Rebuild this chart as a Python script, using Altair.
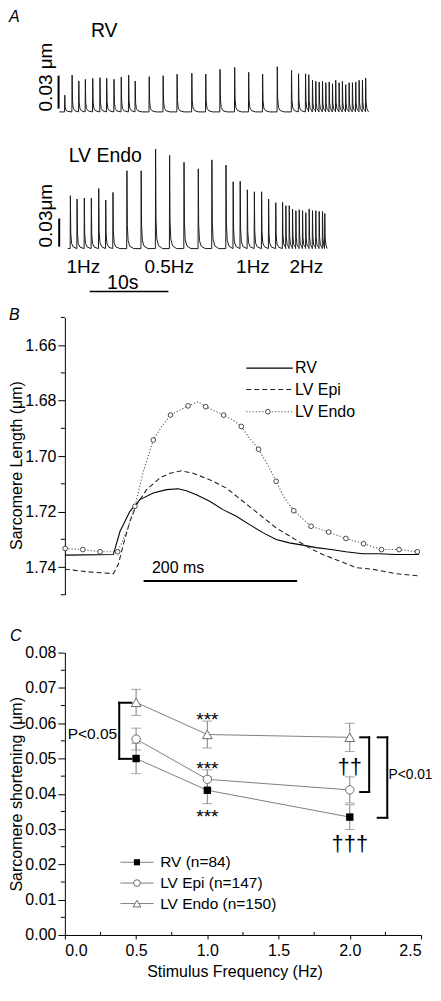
import altair as alt
import pandas as pd

FONT = "Liberation Sans"

# ======================= Panel A : raw sarcomere traces =======================
RV_BEAT_T = [-2.04, -1.11, -0.26, 0.57, 1.51, 2.43, 3.28, 4.21, 5.13, 6.07, 6.90,
             8.68, 10.45, 12.22, 14.09, 15.86, 17.67, 19.53, 21.31, 23.08, 24.94,
             26.75, 27.64,
             28.53, 28.94, 29.41, 29.83, 30.26, 30.68, 31.10, 31.53, 31.95, 32.36,
             32.79, 33.21, 33.63, 34.06, 34.48, 34.90, 35.33, 35.75, 36.16]
RV_BEAT_AMP = [0.0152, 0.0336, 0.0282, 0.0297, 0.0306, 0.0312, 0.0306, 0.0297, 0.0318, 0.0336, 0.0282,
               0.0321, 0.0330, 0.0343, 0.0352, 0.0345, 0.0388, 0.0406, 0.0361, 0.0345, 0.0412,
               0.0379, 0.0348,
               0.0348, 0.0339, 0.0288, 0.0279, 0.0273, 0.0279, 0.0266, 0.0273, 0.0257, 0.0288,
               0.0266, 0.0279, 0.0248, 0.0266, 0.0266, 0.0273, 0.0288, 0.0288, 0.0309]
LV_BEAT_T = [-1.33, -0.48, 0.44, 1.33, 2.27, 3.16, 4.08,
             5.85, 7.66, 9.49, 11.27, 13.10, 14.91, 16.64, 18.43,
             19.34, 20.23, 21.14, 22.03, 22.95, 23.84, 24.75, 25.61,
             26.03, 26.46, 26.88, 27.30, 27.73, 28.15, 28.56, 28.99, 29.41, 29.83, 30.26, 30.68, 30.97]
LV_BEAT_AMP = [0.0562, 0.0527, 0.0537, 0.0537, 0.0639, 0.0516, 0.0597,
               0.0827, 0.0827, 0.1057, 0.0991, 0.0917, 0.0848, 0.0943, 0.0887,
               0.0710, 0.0716, 0.0625, 0.0604, 0.0604, 0.0527, 0.0488, 0.0491,
               0.0456, 0.0456, 0.0421, 0.0403, 0.0413, 0.0403, 0.0382, 0.0421, 0.0403, 0.0403,
               0.0395, 0.0395, 0.0374]
# shape of one twitch (time after stimulus in s, fraction of peak)
SPIKE_DT = [0.0, 0.03, 0.08, 0.18, 0.4, 0.9]
SPIKE_FR = [0.0, 1.0, 0.3, 0.1, 0.03, 0.0]
RV_TRACE_START, RV_TRACE_END = -2.7, 36.55
LV_TRACE_START, LV_TRACE_END = -1.62, 31.3
RV_BAR_T, RV_BAR_V = -2.80, [0.003, 0.033]
LV_BAR_T, LV_BAR_V = -2.72, [0.002, 0.032]
A_FREQ_LABELS = ["1Hz", "0.5Hz", "1Hz", "2Hz"]
A_FREQ_T = [0.34, 11.24, 21.88, 28.65]
A_FREQ_V = -0.0198
A_TIMEBAR_T = [1.15, 11.15]
A_TIMEBAR_V = -0.0456

# ======================= Panel B : averaged twitches ==========================
RV_T = [0, 63.2, 71.9, 84.8, 97.8, 115.2, 132.5, 147.6, 158.4, 171.4, 188.7, 206.0, 223.4,
        240.7, 258.0, 275.3, 292.6, 310.0, 327.3, 344.6, 366.2, 387.9, 409.5, 431.2, 461.5]
RV_SL = [1.7357, 1.7355, 1.7271, 1.7199, 1.7157, 1.7133, 1.7121, 1.7118, 1.7125, 1.7139, 1.7163,
         1.7193, 1.7217, 1.7247, 1.7276, 1.7301, 1.7313, 1.7321, 1.7330, 1.7336, 1.7345, 1.7352,
         1.7352, 1.7355, 1.7355]
EPI_T = [0, 28.6, 63.2, 69.7, 76.2, 84.8, 93.5, 106.5, 123.8, 136.8, 151.9, 167.1, 188.7, 210.4,
         232.0, 253.7, 275.3, 297.0, 318.6, 335.9, 357.6, 379.2, 400.9, 431.2, 461.5]
EPI_SL = [1.7408, 1.7417, 1.7424, 1.7390, 1.7319, 1.7235, 1.7175, 1.7121, 1.7079, 1.7062, 1.7053,
          1.7062, 1.7085, 1.7115, 1.7163, 1.7211, 1.7259, 1.7295, 1.7331, 1.7355, 1.7378, 1.7402,
          1.7408, 1.7424, 1.7432]
ENDO_T = [0.4, 23.4, 45.9, 68.8, 80.5, 91.3, 102.2, 115.2, 126.0, 137.7, 160.6, 173.6, 183.5,
          206.9, 219.0, 229.9, 240.7, 252.4, 264.5, 275.3, 286.1, 298.3, 320.8, 343.7, 366.2,
          389.2, 412.6, 435.5, 459.3]
ENDO_SL = [1.7333, 1.7337, 1.7345, 1.7345, 1.7271, 1.7181, 1.7056, 1.6942, 1.6894, 1.6852,
           1.6819, 1.6804, 1.6822, 1.6852, 1.6870, 1.6893, 1.6936, 1.6975, 1.7032, 1.7091,
           1.7151, 1.7197, 1.7253, 1.7274, 1.7297, 1.7316, 1.7337, 1.7337, 1.7345]
ENDO_MARK_T = [0.4, 23.4, 45.9, 68.8, 91.3, 115.2, 137.7, 160.6, 183.5, 206.9, 229.9, 252.4,
               275.3, 298.3, 320.8, 343.7, 366.2, 389.2, 412.6, 435.5, 459.3]
ENDO_MARK_SL = [1.7333, 1.7337, 1.7345, 1.7345, 1.7181, 1.6942, 1.6852, 1.6819, 1.6822, 1.6852,
                1.6893, 1.6975, 1.7091, 1.7197, 1.7253, 1.7274, 1.7297, 1.7316, 1.7337, 1.7337,
                1.7345]
B_TICKS = [1.66, 1.68, 1.70, 1.72, 1.74]
B_MINOR = [1.65, 1.67, 1.69, 1.71, 1.73, 1.75]
B_LEG_NAMES = ["RV", "LV Epi", "LV Endo"]
B_LEG_SL = [1.6683, 1.6760, 1.6840]
B_LEG_T = [236.4, 297.0]
B_LEG_MARK_T = 264.5
B_LEG_TEXT_T = 300.0
B_BAR_T = [102.6, 302.6]
B_BAR_SL = 1.7450

# ======================= Panel C : shortening vs frequency ====================
FREQ = [0.5, 1.0, 2.0]
RV_MEAN = [0.0500, 0.0410, 0.0334]
RV_SEM = [0.0043, 0.0038, 0.0035]
EPI_MEAN = [0.0555, 0.0441, 0.0411]
EPI_SEM = [0.0031, 0.0027, 0.0037]
ENDO_MEAN = [0.0659, 0.0568, 0.0560]
ENDO_SEM = [0.0037, 0.0038, 0.0040]
C_YTICKS = [0.00, 0.01, 0.02, 0.03, 0.04, 0.05, 0.06, 0.07, 0.08]
C_YMINOR = [0.005, 0.015, 0.025, 0.035, 0.045, 0.055, 0.065, 0.075]
C_XTICKS = [0.0, 0.5, 1.0, 1.5, 2.0, 2.5]
C_XMINOR = [0.25, 0.75, 1.25, 1.75, 2.25]
C_LEG_NAMES = ["RV (n=84)", "LV Epi (n=147)", "LV Endo (n=150)"]
C_LEG_S = [0.0206, 0.0147, 0.0089]
C_LEG_LINE_F = [0.390, 0.623]
C_LEG_MARK_F = 0.506
C_LEG_TEXT_F = 0.669
STAR_S = [0.0622, 0.0483, 0.0347]
DAGGER_LABELS = ["††", "†††"]
DAGGER_S = [0.0476, 0.0259]
# brackets: (x of vertical bar, x of free ends, top, bottom)
BRACKETS = [(0.3816, 0.467, 0.0658, 0.0499),
            (2.136, 2.073, 0.0560, 0.0405),
            (2.263, 2.196, 0.0560, 0.0332)]
P_LABELS = ["P<0.05", "P<0.01"]
P_F = [0.193, 2.272]
P_S = [0.0569, 0.0454]

GRAY = "#808080"

# ---------------------------------------------------------------- Panel A
def trace_df(times, amps, t_start, t_end):
    rows = [(t_start, 0.0)]
    for i, (t0, a) in enumerate(zip(times, amps)):
        t_next = times[i + 1] if i + 1 < len(times) else t_end
        for dt, fr in zip(SPIKE_DT, SPIKE_FR):
            if t0 + dt < t_next:
                rows.append((t0 + dt, a * fr))
    rows.append((t_end, 0.0))
    return pd.DataFrame(rows, columns=["t", "v"])


A_X = alt.X("t:Q", scale=alt.Scale(domain=[-2, 43.6], nice=False, zero=False), axis=None)
RV_YS = alt.Scale(domain=[-0.13455, 0.09364], nice=False, zero=False)
LV_YS = alt.Scale(domain=[-0.01166, 0.25451], nice=False, zero=False)


def ay(scale):
    return alt.Y("v:Q", scale=scale, axis=None)


def a_layer(times, amps, t0, t1, ys, bar_t, bar_v, name, name_t, name_v, vlab, vlab_t, vlab_v, extra):
    line = alt.Chart(trace_df(times, amps, t0, t1)).mark_line(
        color="#1a1a1a", strokeWidth=1.0).encode(x=A_X, y=ay(ys))
    bar = alt.Chart(pd.DataFrame({"t": [bar_t], "v": [bar_v[0]], "v2": [bar_v[1]]})).mark_rule(
        color="black", strokeWidth=2).encode(x=A_X, y=ay(ys), y2="v2:Q")
    lab = alt.Chart(pd.DataFrame({"t": [name_t], "v": [name_v], "l": [name]})).mark_text(
        fontSize=19.5, align="center", baseline="middle", color="black").encode(x=A_X, y=ay(ys), text="l:N")
    vl = alt.Chart(pd.DataFrame({"t": [vlab_t], "v": [vlab_v], "l": [vlab]})).mark_text(
        fontSize=19, angle=270, align="center", baseline="middle", color="black").encode(
        x=A_X, y=ay(ys), text="l:N")
    return alt.layer(line, bar, lab, vl, *extra)


freq_lab = alt.Chart(pd.DataFrame({"t": A_FREQ_T, "v": [A_FREQ_V] * 4, "l": A_FREQ_LABELS})).mark_text(
    fontSize=19, align="center", baseline="middle", color="black").encode(x=A_X, y=ay(LV_YS), text="l:N")
ten_lab = alt.Chart(pd.DataFrame({"t": [5.35], "v": [-0.0361], "l": ["10s"]})).mark_text(
    fontSize=19.5, align="center", baseline="middle", color="black").encode(x=A_X, y=ay(LV_YS), text="l:N")
ten_bar = alt.Chart(pd.DataFrame({"t": [A_TIMEBAR_T[0]], "t2": [A_TIMEBAR_T[1]], "v": [A_TIMEBAR_V]})).mark_rule(
    color="black", strokeWidth=1.5).encode(x=A_X, x2="t2:Q", y=ay(LV_YS))

rv_layer = a_layer(RV_BEAT_T, RV_BEAT_AMP, RV_TRACE_START, RV_TRACE_END, RV_YS, RV_BAR_T, RV_BAR_V,
                   "RV", 3.0, 0.0736, "0.03 μm", -4.41, 0.0318, [])
lv_layer = a_layer(LV_BEAT_T, LV_BEAT_AMP, LV_TRACE_START, LV_TRACE_END, LV_YS, LV_BAR_T, LV_BAR_V,
                   "LV Endo", 3.13, 0.0986, "0.03μm", -4.34, 0.0350, [freq_lab, ten_lab, ten_bar])


def letter(ch, dx, dy, base):
    return alt.Chart(pd.DataFrame({"l": [ch]})).mark_text(
        fontSize=16, fontStyle="italic", align="left", baseline=base, color="black").encode(
        text="l:N", x=alt.value(dx), y=alt.value(dy))


panelA = alt.layer(rv_layer, lv_layer, letter("A", -56, 0, "top")).resolve_scale(
    y="independent").properties(width=360, height=251)

# ---------------------------------------------------------------- Panel B
B_XS = alt.Scale(domain=[0, 468], nice=False, zero=False)
B_YS = alt.Scale(domain=[1.65, 1.75], reverse=True, nice=False, zero=False)
B_AX = alt.Axis(values=B_TICKS, format=".2f", title="Sarcomere Length (μm)", tickSize=7,
                labelPadding=2, titlePadding=0, titleY=148, domainColor="black", tickColor="black")


def bx():
    return alt.X("t:Q", scale=B_XS, axis=None)


def by():
    return alt.Y("sl:Q", scale=B_YS, axis=B_AX)


b_rv = alt.Chart(pd.DataFrame({"t": RV_T, "sl": RV_SL})).mark_line(
    color="black", strokeWidth=1.1).encode(x=bx(), y=by())
b_epi = alt.Chart(pd.DataFrame({"t": EPI_T, "sl": EPI_SL})).mark_line(
    color="#222", strokeWidth=1.1, strokeDash=[5, 3]).encode(x=bx(), y=by())
b_endo = alt.Chart(pd.DataFrame({"t": ENDO_T, "sl": ENDO_SL})).mark_line(
    color="#555", strokeWidth=1.1, strokeDash=[1.2, 2]).encode(x=bx(), y=by())
b_endo_pts = alt.Chart(pd.DataFrame({"t": ENDO_MARK_T, "sl": ENDO_MARK_SL})).mark_point(
    shape="circle", size=22, filled=True, fill="white", stroke="#333", strokeWidth=0.9, opacity=1).encode(
    x=bx(), y=by())
b_minor = alt.Chart(pd.DataFrame({"sl": B_MINOR})).mark_rule(color="black").encode(
    y=by(), x=alt.value(-4), x2=alt.value(0))
b_bar = alt.Chart(pd.DataFrame({"t": [B_BAR_T[0]], "t2": [B_BAR_T[1]], "sl": [B_BAR_SL]})).mark_rule(
    color="black", strokeWidth=2).encode(x=bx(), x2="t2:Q", y=by())
b_bar_lab = alt.Chart(pd.DataFrame({"t": [147.6], "sl": [1.7402], "l": ["200 ms"]})).mark_text(
    fontSize=16, align="center", baseline="middle", color="black").encode(x=bx(), y=by(), text="l:N")

leg_df = pd.DataFrame({"t": [B_LEG_T[0]] * 3, "t2": [B_LEG_T[1]] * 3, "sl": B_LEG_SL, "n": B_LEG_NAMES})
b_leg_rv = alt.Chart(leg_df.iloc[[0]]).mark_rule(color="black", strokeWidth=1.1).encode(
    x=bx(), x2="t2:Q", y=by())
b_leg_epi = alt.Chart(leg_df.iloc[[1]]).mark_rule(color="#222", strokeWidth=1.1, strokeDash=[5, 3]).encode(
    x=bx(), x2="t2:Q", y=by())
b_leg_endo = alt.Chart(leg_df.iloc[[2]]).mark_rule(color="#555", strokeWidth=1.1, strokeDash=[1.2, 2]).encode(
    x=bx(), x2="t2:Q", y=by())
b_leg_pt = alt.Chart(pd.DataFrame({"t": [B_LEG_MARK_T], "sl": [B_LEG_SL[2]]})).mark_point(
    shape="circle", size=22, filled=True, fill="white", stroke="#333", strokeWidth=0.9, opacity=1).encode(
    x=bx(), y=by())
b_leg_txt = alt.Chart(pd.DataFrame({"t": [B_LEG_TEXT_T] * 3, "sl": B_LEG_SL, "n": B_LEG_NAMES})).mark_text(
    fontSize=16, align="left", baseline="middle", color="black").encode(x=bx(), y=by(), text="n:N")

panelB = alt.layer(b_rv, b_epi, b_endo, b_endo_pts, b_minor, b_bar, b_bar_lab,
                   b_leg_rv, b_leg_epi, b_leg_endo, b_leg_pt, b_leg_txt,
                   letter("B", -56, 3, "alphabetic")).properties(width=360, height=278)

# ---------------------------------------------------------------- Panel C
C_W = 357
C_XS = alt.Scale(domain=[0, 2.5], nice=False, zero=False)
C_YS = alt.Scale(domain=[0, 0.08], nice=False, zero=False)
C_XAX = alt.Axis(values=C_XTICKS, format=".1f", title="Stimulus Frequency (Hz)", tickSize=4,
                 labelPadding=4, titleX=170, titleY=29, titleBaseline="top",
                 domainColor="black", tickColor="black")
C_YAX = alt.Axis(values=C_YTICKS, format=".2f", title="Sarcomere shortening (μm)", tickSize=7,
                 labelPadding=2, titlePadding=0, domainColor="black", tickColor="black")


def cx():
    return alt.X("f:Q", scale=C_XS, axis=C_XAX)


def cy():
    return alt.Y("s:Q", scale=C_YS, axis=C_YAX)


series = [("RV", RV_MEAN, RV_SEM), ("Epi", EPI_MEAN, EPI_SEM), ("Endo", ENDO_MEAN, ENDO_SEM)]
c_layers = []
for nm, mean, sem in series:
    df = pd.DataFrame({"f": FREQ, "s": mean,
                       "lo": [m - e for m, e in zip(mean, sem)],
                       "hi": [m + e for m, e in zip(mean, sem)]})
    c_layers.append(alt.Chart(df).mark_line(color=GRAY, strokeWidth=1).encode(x=cx(), y=cy()))
    c_layers.append(alt.Chart(df).mark_rule(color=GRAY, strokeWidth=1).encode(
        x=cx(), y=alt.Y("lo:Q", scale=C_YS, axis=C_YAX), y2="hi:Q"))
    for fld in ["lo", "hi"]:
        c_layers.append(alt.Chart(df).mark_tick(orient="horizontal", color=GRAY, size=10, thickness=1).encode(
            x=cx(), y=alt.Y(f"{fld}:Q", scale=C_YS, axis=C_YAX)))

MARKS = {
    "RV": dict(shape="square", size=55, filled=True, color="black", opacity=1),
    "Epi": dict(shape="circle", size=70, filled=True, fill="white", stroke="#6a6a6a", strokeWidth=1, opacity=1),
    "Endo": dict(shape="triangle-up", size=95, filled=True, fill="white", stroke="#6a6a6a", strokeWidth=1, opacity=1),
}
LEG_MARKS = {
    "RV": dict(shape="square", size=38, filled=True, color="black", opacity=1),
    "Epi": dict(shape="circle", size=45, filled=True, fill="white", stroke="#6a6a6a", strokeWidth=1, opacity=1),
    "Endo": dict(shape="triangle-up", size=60, filled=True, fill="white", stroke="#6a6a6a", strokeWidth=1, opacity=1),
}
for nm, mean, sem in series:
    df = pd.DataFrame({"f": FREQ, "s": mean})
    c_layers.append(alt.Chart(df).mark_point(**MARKS[nm]).encode(x=cx(), y=cy()))

# legend
for i, (nm, _, _) in enumerate(series):
    ldf = pd.DataFrame({"f": [C_LEG_LINE_F[0]], "f2": [C_LEG_LINE_F[1]], "s": [C_LEG_S[i]]})
    c_layers.append(alt.Chart(ldf).mark_rule(color=GRAY, strokeWidth=1).encode(x=cx(), x2="f2:Q", y=cy()))
    c_layers.append(alt.Chart(pd.DataFrame({"f": [C_LEG_MARK_F], "s": [C_LEG_S[i]]})).mark_point(
        **LEG_MARKS[nm]).encode(x=cx(), y=cy()))
c_layers.append(alt.Chart(pd.DataFrame({"f": [C_LEG_TEXT_F] * 3, "s": C_LEG_S, "n": C_LEG_NAMES})).mark_text(
    fontSize=15.5, align="left", baseline="middle", color="black").encode(x=cx(), y=cy(), text="n:N"))

# annotations
c_layers.append(alt.Chart(pd.DataFrame({"f": [1.0] * 3, "s": STAR_S, "l": ["***"] * 3})).mark_text(
    fontSize=19, align="center", baseline="alphabetic", dy=11, color="black").encode(x=cx(), y=cy(), text="l:N"))
c_layers.append(alt.Chart(pd.DataFrame({"f": [2.0] * 2, "s": DAGGER_S, "l": DAGGER_LABELS})).mark_text(
    fontSize=22, align="center", baseline="alphabetic", dy=7, color="black").encode(x=cx(), y=cy(), text="l:N"))
c_layers.append(alt.Chart(pd.DataFrame({"f": [P_F[0]], "s": [P_S[0]], "l": [P_LABELS[0]]})).mark_text(
    fontSize=15.5, align="center", baseline="middle", color="black").encode(x=cx(), y=cy(), text="l:N"))
c_layers.append(alt.Chart(pd.DataFrame({"f": [P_F[1]], "s": [P_S[1]], "l": [P_LABELS[1]]})).mark_text(
    fontSize=13.8, align="left", baseline="middle", color="black").encode(x=cx(), y=cy(), text="l:N"))

br_rows = []
for xv, xe, top, bot in BRACKETS:
    br_rows.append({"f": xv, "f2": xv, "s": top, "s2": bot})
    br_rows.append({"f": xe, "f2": xv, "s": top, "s2": top})
    br_rows.append({"f": xe, "f2": xv, "s": bot, "s2": bot})
c_layers.append(alt.Chart(pd.DataFrame(br_rows)).mark_rule(color="black", strokeWidth=2, strokeCap="square").encode(
    x=cx(), x2="f2:Q", y=cy(), y2="s2:Q"))

# minor ticks
c_layers.append(alt.Chart(pd.DataFrame({"s": C_YMINOR})).mark_rule(color="black").encode(
    y=cy(), x=alt.value(-4), x2=alt.value(0)))
c_layers.append(alt.Chart(pd.DataFrame({"f": C_XMINOR})).mark_rule(color="black").encode(
    x=cx(), y=alt.value(280), y2=alt.value(283)))

c_layers.append(letter("C", -55, -12, "alphabetic"))
panelC = alt.layer(*c_layers).properties(width=C_W, height=283)

chart = alt.vconcat(panelA, panelB, panelC, spacing=58, bounds="flush").properties(
    padding=0
).configure(font=FONT).configure_view(stroke=None).configure_axis(
    grid=False, labelFont=FONT, titleFont=FONT, labelFontSize=16, titleFontSize=16,
    titleFontWeight="normal", labelColor="black", titleColor="black", domainWidth=1, tickWidth=1
)

chart.save("out.html", embed_options={"renderer": "svg", "actions": False})
